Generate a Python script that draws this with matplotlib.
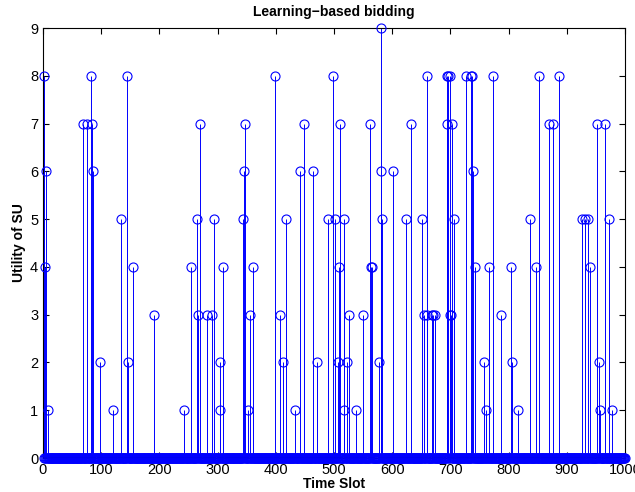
import matplotlib.pyplot as plt
import numpy as np

# non-zero utilities (time slot, utility)
slots = [2, 3, 6, 9, 69, 75, 82, 84, 86, 98, 121, 134, 145, 146, 154, 190,
         242, 254, 264, 266, 269, 281, 290, 294, 304, 305, 309, 343, 345, 347,
         353, 355, 360, 399, 408, 413, 417, 433, 442, 448, 464, 471, 489, 499,
         502, 507, 509, 511, 517, 518, 522, 526, 538, 550, 562, 564, 566, 578,
         580, 581, 583, 601, 624, 633, 652, 655, 659, 660, 669, 671, 674, 694,
         695, 696, 699, 700, 701, 702, 706, 727, 735, 738, 739, 742, 758, 762,
         767, 774, 787, 805, 806, 816, 837, 847, 853, 869, 877, 886, 927, 932,
         936, 940, 952, 955, 957, 965, 973, 978]
utils = [8, 4, 6, 1, 7, 7, 8, 7, 6, 2, 1, 5, 8, 2, 4, 3,
         1, 4, 5, 3, 7, 3, 3, 5, 2, 1, 4, 5, 6, 7,
         1, 3, 4, 8, 3, 2, 5, 1, 6, 7, 6, 2, 5, 8,
         5, 2, 4, 7, 5, 1, 2, 3, 1, 3, 7, 4, 4, 2,
         6, 9, 5, 6, 5, 7, 5, 3, 3, 8, 3, 3, 3, 8,
         7, 8, 3, 8, 3, 7, 5, 8, 8, 8, 6, 4, 2, 1,
         4, 8, 3, 4, 2, 1, 5, 4, 8, 7, 7, 8, 5, 5,
         5, 4, 7, 2, 1, 7, 5, 1]

n_slots = 1000
t = np.arange(1, n_slots + 1)
u = np.zeros(n_slots)
u[np.array(slots) - 1] = utils

plt.rcParams["font.family"] = ["Liberation Sans", "DejaVu Sans"]

fig = plt.figure(figsize=(6.35, 4.92), dpi=100)
ax = fig.add_axes([0.0677, 0.0691, 0.9165, 0.8739])

blue = (0, 0, 1)
ax.vlines(t, 0, u, color=blue, linewidth=0.7)
ax.plot(t, u, linestyle="none", marker="o", markersize=6.5,
        markerfacecolor="none", markeredgecolor=blue, markeredgewidth=0.8,
        clip_on=False, zorder=3)
ax.axhline(0, color="black", linewidth=0.8, zorder=4)

ax.set_xlim(0, 1000)
ax.set_ylim(0, 9)
ax.set_xticks(np.arange(0, 1001, 100))
ax.set_yticks(np.arange(0, 10, 1))
ax.tick_params(direction="in", top=True, right=True, labelsize=10.5, length=4)
for s in ax.spines.values():
    s.set_linewidth(0.8)

ax.set_title("Learning\u2212based bidding", fontsize=10, fontweight="bold", pad=9)
ax.set_xlabel("Time Slot", fontsize=10, fontweight="bold", labelpad=0)
ax.set_ylabel("Utility of SU", fontsize=10, fontweight="bold", labelpad=3)

fig.savefig("out.png", dpi=100)
